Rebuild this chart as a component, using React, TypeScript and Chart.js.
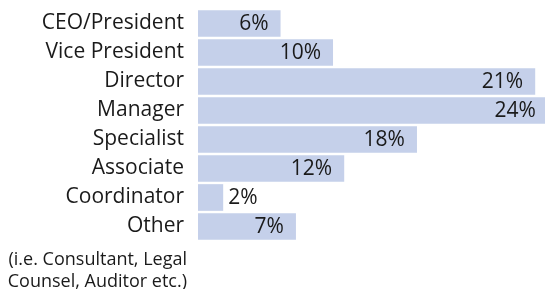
import React, { useEffect, useRef } from "react";
import { Chart, registerables } from "chart.js";

Chart.register(...registerables);

const categories = [
  "CEO/President",
  "Vice President",
  "Director",
  "Manager",
  "Specialist",
  "Associate",
  "Coordinator",
  "Other",
];
// bar lengths as drawn in the picture
const barLengths = [5.9, 9.65, 24.1, 25.0, 15.65, 10.45, 1.8, 7.0];
// printed value labels
const valueLabels = ["6%", "10%", "21%", "24%", "18%", "12%", "2%", "7%"];
const footnoteLines = ["(i.e. Consultant, Legal", "Counsel, Auditor etc.)"];

const FONT = "'Open Sans', sans-serif";
const BAR_COLOR = "#c5d0ea";

const labelPlugin = {
  id: "valueLabels",
  afterDatasetsDraw(chart: any) {
    const ctx = chart.ctx;
    const meta = chart.getDatasetMeta(0);
    ctx.save();
    ctx.font = `21px ${FONT}`;
    ctx.fillStyle = "#1a1a1a";
    ctx.textBaseline = "middle";
    meta.data.forEach((bar: any, i: number) => {
      const text = valueLabels[i];
      const w = ctx.measureText(text).width;
      const left = bar.base;
      const right = bar.x;
      if (right - left > w + 20) {
        ctx.textAlign = "right";
        ctx.fillText(text, Math.min(right, chart.chartArea.right + 3) - 12, bar.y + 1);
      } else {
        ctx.textAlign = "left";
        ctx.fillText(text, right + 5, bar.y + 1);
      }
    });
    // footnote under the last category
    ctx.font = `18px ${FONT}`;
    ctx.textAlign = "right";
    ctx.textBaseline = "alphabetic";
    const xr = chart.chartArea.left - 11;
    footnoteLines.forEach((line, i) => {
      ctx.fillText(line, xr, chart.chartArea.bottom + 24 + i * 22);
    });
    ctx.restore();
  },
};

export default function App() {
  const ref = useRef<HTMLCanvasElement | null>(null);

  useEffect(() => {
    document.body.style.margin = "0";
    const canvas = ref.current;
    if (!canvas) return;
    const chart = new Chart(canvas, {
      type: "bar",
      data: {
        labels: categories,
        datasets: [
          {
            data: barLengths,
            backgroundColor: BAR_COLOR,
            borderWidth: 0,
            barPercentage: 0.92,
            categoryPercentage: 1,
          },
        ],
      },
      options: {
        indexAxis: "y",
        responsive: false,
        animation: false,
        maintainAspectRatio: false,
        layout: { padding: { top: 9, bottom: 48, left: 0, right: 0 } },
        plugins: {
          legend: { display: false },
          tooltip: { enabled: false },
        },
        scales: {
          x: {
            display: false,
            min: 0,
            max: 24.8,
          },
          y: {
            grid: { display: false, drawTicks: false },
            border: { display: false },
            ticks: {
              color: "#1a1a1a",
              padding: 14,
              font: { family: FONT, size: 21 },
            },
            afterFit: (scale: any) => {
              scale.width = 198;
              scale.paddingTop = 0;
              scale.paddingBottom = 0;
            },
          },
        },
      },
      plugins: [labelPlugin],
    });
    return () => chart.destroy();
  }, []);

  return (
    <div style={{ position: "absolute", left: 0, top: 0, width: 545, height: 289 }}>
      <canvas ref={ref} width={545} height={289} style={{ width: 545, height: 289 }} />
    </div>
  );
}
